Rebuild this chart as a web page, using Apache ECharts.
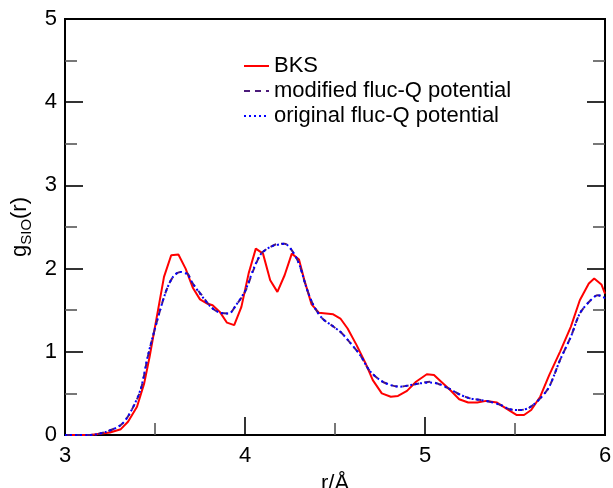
<!DOCTYPE html>
<html>
<head>
<meta charset="utf-8">
<script src="https://cdn.jsdelivr.net/npm/echarts@6/dist/echarts.min.js"></script>
<style>html,body{margin:0;padding:0;background:#fff}#c{width:613px;height:488px}</style>
</head>
<body>
<div id="c"></div>
<script>
// BKS
const bksR = [3.00,3.14,3.25,3.31,3.35,3.40,3.44,3.47,3.51,3.55,3.59,3.63,3.67,3.71,3.75,3.79,3.82,3.86,3.90,3.94,3.98,4.02,4.06,4.10,4.14,4.18,4.22,4.26,4.30,4.33,4.37,4.41,4.45,4.49,4.53,4.57,4.62,4.67,4.71,4.76,4.81,4.85,4.90,4.95,5.01,5.05,5.09,5.14,5.19,5.24,5.29,5.34,5.40,5.45,5.51,5.55,5.59,5.64,5.69,5.75,5.81,5.86,5.91,5.94,5.98,6.00];
const bksG = [0.00,0.00,0.03,0.07,0.16,0.34,0.62,0.94,1.42,1.90,2.16,2.17,2.00,1.77,1.63,1.58,1.56,1.48,1.35,1.32,1.54,1.94,2.24,2.18,1.86,1.72,1.92,2.18,2.11,1.86,1.57,1.47,1.46,1.45,1.40,1.28,1.08,0.86,0.66,0.50,0.46,0.47,0.53,0.64,0.73,0.72,0.64,0.54,0.43,0.39,0.39,0.41,0.39,0.32,0.24,0.24,0.30,0.46,0.72,1.00,1.30,1.62,1.82,1.88,1.81,1.70];
// modified fluc-Q potential
const modR = [3.00,3.14,3.23,3.31,3.36,3.42,3.46,3.51,3.56,3.60,3.64,3.68,3.71,3.76,3.81,3.86,3.91,3.95,4.00,4.05,4.09,4.14,4.19,4.22,4.26,4.30,4.34,4.38,4.43,4.48,4.53,4.58,4.64,4.69,4.75,4.81,4.86,4.92,4.97,5.03,5.08,5.14,5.19,5.25,5.31,5.36,5.42,5.47,5.53,5.58,5.64,5.69,5.75,5.81,5.86,5.92,5.96,5.99,6.00];
const modG = [0.00,0.00,0.04,0.12,0.26,0.54,0.94,1.36,1.72,1.90,1.96,1.94,1.82,1.68,1.54,1.47,1.46,1.56,1.72,2.00,2.18,2.26,2.30,2.30,2.22,2.06,1.78,1.56,1.40,1.32,1.24,1.12,0.96,0.78,0.66,0.60,0.58,0.60,0.62,0.64,0.61,0.55,0.49,0.44,0.42,0.40,0.36,0.31,0.30,0.33,0.44,0.58,0.90,1.18,1.46,1.62,1.68,1.66,1.64];
// original fluc-Q potential
const origR = [3.00,3.14,3.23,3.31,3.36,3.42,3.46,3.51,3.56,3.60,3.64,3.68,3.71,3.76,3.81,3.86,3.91,3.95,4.00,4.05,4.09,4.14,4.19,4.22,4.26,4.30,4.34,4.38,4.43,4.48,4.53,4.58,4.64,4.69,4.75,4.81,4.86,4.92,4.97,5.03,5.08,5.14,5.19,5.25,5.31,5.36,5.42,5.47,5.53,5.58,5.64,5.69,5.75,5.81,5.86,5.92,5.96,5.99,6.00];
const origG = [0.00,0.00,0.04,0.12,0.26,0.55,0.95,1.36,1.72,1.90,1.96,1.93,1.82,1.67,1.54,1.47,1.46,1.56,1.73,2.01,2.18,2.26,2.29,2.30,2.22,2.06,1.78,1.56,1.40,1.32,1.24,1.12,0.96,0.78,0.66,0.60,0.58,0.60,0.62,0.63,0.61,0.55,0.49,0.44,0.42,0.40,0.36,0.31,0.30,0.33,0.44,0.58,0.90,1.18,1.46,1.62,1.68,1.66,1.64];
const seriesNames = ['BKS','modified fluc-Q potential','original fluc-Q potential'];
const xTicks = [3,4,5,6];
const yTicks = [0,1,2,3,4,5];

function pairs(a,b){return a.map((v,i)=>[v,b[i]]);}

const FONT = 'Liberation Sans, Arial, Helvetica, sans-serif';
const chart = echarts.init(document.getElementById('c'), null, {renderer:'canvas'});
const tickCommon = {
  axisLine:{show:true,onZero:false,lineStyle:{color:'#000',width:2}},
  axisTick:{show:true,inside:true,length:18,lineStyle:{color:'#000',width:1.6}},
  minorTick:{show:true,splitNumber:2,length:12,lineStyle:{color:'#555',width:1.6}},
  splitLine:{show:false},
};
chart.setOption({
  animation:false,
  backgroundColor:'#fff',
  grid:{left:65,right:8,top:19,bottom:53,containLabel:false,outerBoundsMode:'none',
        show:true,borderColor:'#000',borderWidth:2,backgroundColor:'transparent'},
  legend:{
    orient:'vertical',left:238,top:50,itemWidth:25,itemHeight:14,itemGap:3,
    itemStyle:{opacity:0},
    textStyle:{fontSize:22,fontFamily:FONT,color:'#000'},
    data:seriesNames
  },
  xAxis:[{
    type:'value',min:xTicks[0],max:xTicks[xTicks.length-1],interval:1,
    ...tickCommon,
    axisLabel:{fontSize:22,fontFamily:FONT,color:'#000',margin:10},
    name:'r/Å',nameLocation:'middle',nameGap:30,
    nameTextStyle:{fontSize:22,fontFamily:FONT,color:'#000',verticalAlign:'top',lineHeight:24}
  }],
  yAxis:[{
    type:'value',min:yTicks[0],max:yTicks[yTicks.length-1],interval:1,
    ...tickCommon,
    axisLabel:{fontSize:22,fontFamily:FONT,color:'#000',margin:8},
    name:'{a|g}{s|SIO}{a|(r)}',nameLocation:'middle',nameGap:19,nameRotate:90,
    nameTextStyle:{fontFamily:FONT,color:'#000',
      rich:{a:{fontSize:22,fontFamily:FONT,color:'#000'},s:{fontSize:15,fontFamily:FONT,color:'#000',padding:[12,0,0,0]}}}
  },{
    type:'value',position:'right',min:yTicks[0],max:yTicks[yTicks.length-1],interval:1,
    ...tickCommon,
    axisLabel:{show:false}
  }],
  series:[
    {name:seriesNames[0],type:'line',data:pairs(bksR,bksG),symbol:'none',smooth:false,
     itemStyle:{color:'#ff0000'},lineStyle:{color:'#ff0000',width:2,type:'solid'},z:3},
    {name:seriesNames[1],type:'line',data:pairs(modR,modG),symbol:'none',smooth:0.3,
     itemStyle:{color:'#4b1a7a'},lineStyle:{color:'#4b1a7a',width:2,type:[6,5]},z:4},
    {name:seriesNames[2],type:'line',data:pairs(origR,origG),symbol:'none',smooth:0.3,
     itemStyle:{color:'#0000ff'},lineStyle:{color:'#0000ff',width:2,type:[2,3]},z:5}
  ]
});
</script>
</body>
</html>
